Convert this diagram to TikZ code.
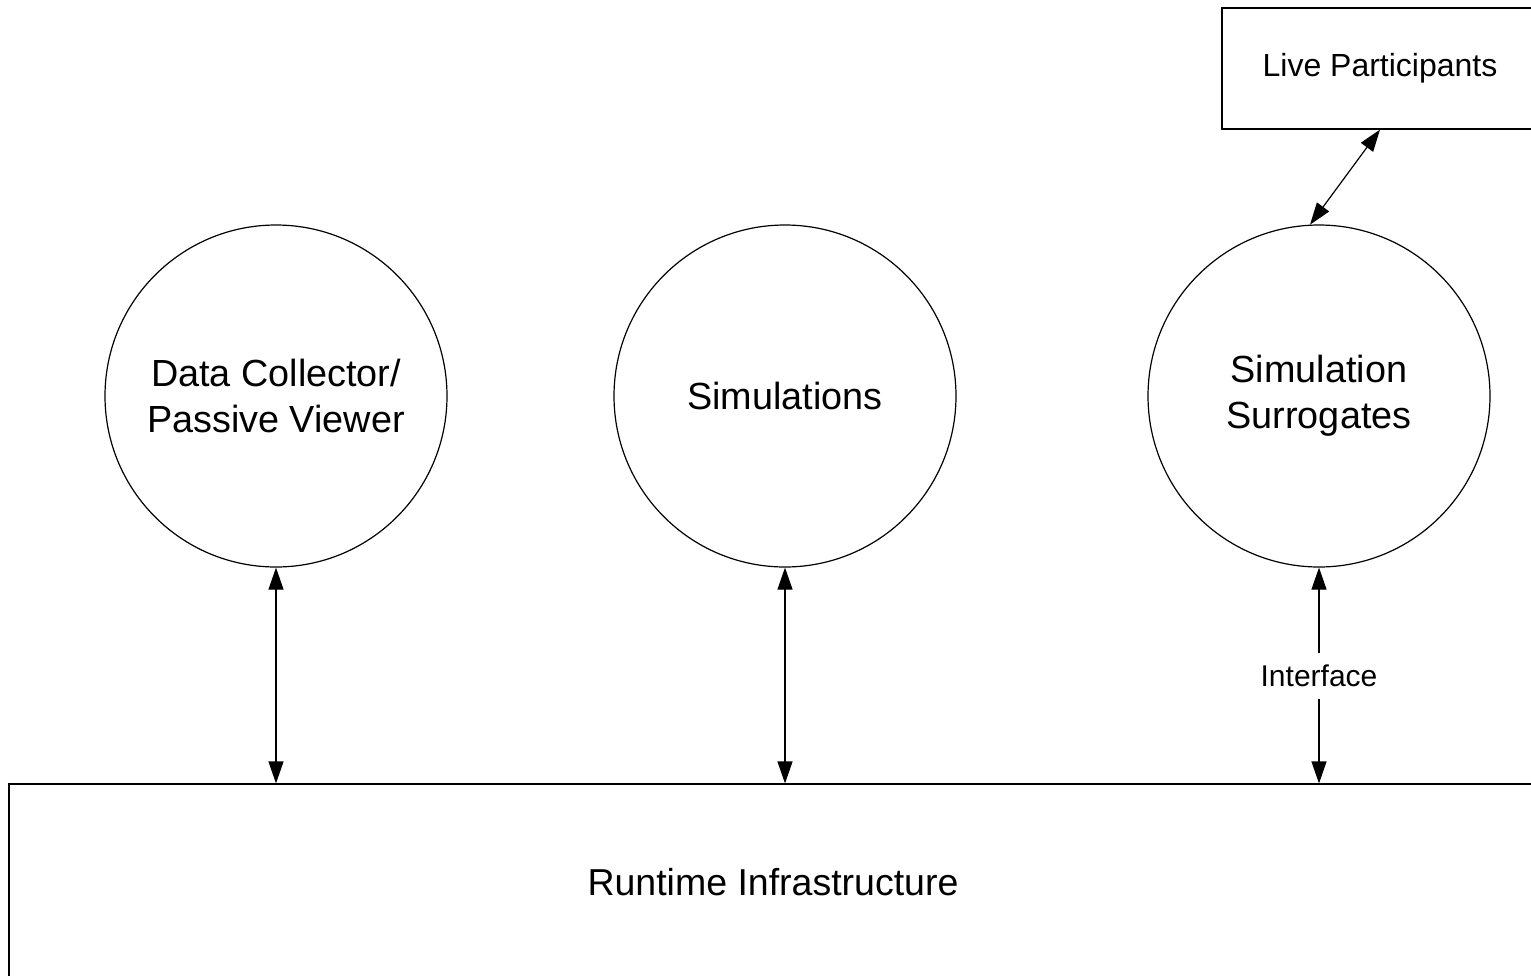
\documentclass[tikz,border=0pt]{standalone}
\usepackage{fontspec}
\setmainfont{Liberation Sans}
\usetikzlibrary{arrows.meta}
\begin{document}
\begin{tikzpicture}[x=1pt,y=-1pt,line width=1.2pt,
  bubble/.style={draw,circle,minimum size=342pt,inner sep=0pt,align=center,font=\fontsize{37.8}{46}\selectfont},
  panel/.style={draw,rectangle,inner sep=0pt,align=center},
  link/.style={{Triangle[length=22pt,width=15pt]}-{Triangle[length=22pt,width=15pt]}}
]
\useasboundingbox (0,0) rectangle (1531,975);
\begin{scope}
\clip (0,0) rectangle (1531,975);
\node[bubble] (dc) at (276,396) {Data Collector/\\Passive Viewer};
\node[bubble] (sim) at (785,396) {Simulations};
\node[bubble] (ss) at (1319,396) {Simulation\\Surrogates};
\node[panel,minimum width=316pt,minimum height=121pt,font=\fontsize{32}{38}\selectfont] (live) at (1380,68.5) {Live Participants};
\node[panel,minimum width=1528pt,minimum height=200pt,font=\fontsize{37.5}{45}\selectfont] (rti) at (773,884) {\raisebox{4pt}{Runtime Infrastructure}};
\draw[link] (dc.south) -- (dc.south |- rti.north);
\draw[link] (sim.south) -- (sim.south |- rti.north);
\draw[link] (ss.south) -- node[fill=white,inner xsep=3pt,inner ysep=12pt,font=\fontsize{30}{36}\selectfont] (iface) {Interface} (ss.south |- rti.north);
\draw[link] (ss.93) -- (live.south);
\end{scope}
\end{tikzpicture}
\end{document}
